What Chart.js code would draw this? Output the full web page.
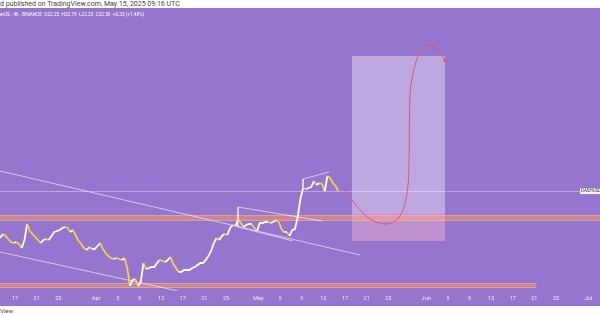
<!DOCTYPE html>
<html>
<head>
<meta charset="utf-8">
<script src="https://cdn.jsdelivr.net/npm/chart.js@4.4.1/dist/chart.umd.min.js"></script>
<style>
  body { margin: 0; background: #fff; width: 600px; height: 315px; overflow: hidden; position: relative; font-family: Roboto, "DejaVu Sans", sans-serif; }
  #top { position: absolute; left: 0; top: 0; font-size: 7px; line-height: 9px; color: #444; white-space: nowrap; }
  #pane { position: absolute; left: 0; top: 8px; width: 600px; height: 298px; background: #9575CD; }
  #sym { position: absolute; left: 0; top: 12px; font-size: 4.7px; color: #fff; white-space: nowrap; }
  #bottom { position: absolute; left: 0; top: 306px; font-size: 6px; line-height: 9px; color: #444; }
</style>
</head>
<body>
<div id="top">d published on TradingView.com, May 15, 2025 09:16 UTC</div>
<div id="pane"><canvas id="chart" width="600" height="298"></canvas></div>
<div id="sym">erUS · 4h · BINANCE &nbsp;O22.25 &nbsp;H22.79 &nbsp;L22.25 &nbsp;C22.59 &nbsp;+0.33 (+1.48%)</div>
<div id="bottom">View</div>
<script>
// days counted from Mar 1 2025 (day 0), one price every 12 hours
const firstCandleDay = 13.25;
const firstOpen = 20.30;
const closes = [
  20.24, 20.44, 20.34, 20.19, 20.04, 19.99, 20.04, 19.94, 19.74, 20.14,
  20.94, 20.59, 20.44, 20.29, 20.14, 19.99, 20.14, 20.19, 20.14, 20.34,
  20.54, 20.59, 20.64, 20.74, 20.79, 20.74, 20.54, 20.64, 20.34, 20.09,
  19.94, 19.74, 19.64, 19.79, 19.69, 19.69, 19.84, 19.99, 19.69, 19.49,
  19.34, 19.24, 19.19, 19.24, 19.19, 19.14, 19.24, 18.74, 17.84, 18.14,
  18.19, 17.84, 18.04, 18.99, 18.69, 18.74, 18.79, 18.79, 18.99, 19.14,
  19.09, 19.04, 19.14, 19.29, 18.94, 18.74, 18.54, 18.54, 18.64, 18.64,
  18.64, 18.74, 18.79, 18.89, 18.99, 18.99, 19.14, 19.34, 19.59, 19.99,
  20.24, 20.14, 20.34, 20.44, 20.39, 20.74, 20.89, 20.84, 21.19, 20.99,
  20.79, 20.89, 20.94, 20.94, 20.74, 20.59, 20.99, 20.99, 21.04, 21.04,
  20.99, 21.04, 21.14, 21.04, 20.69, 20.54, 20.54, 20.34, 20.64, 20.69,
  21.29, 22.19, 22.74, 22.69, 22.74, 22.79, 23.09, 22.89, 22.99, 22.94,
  22.59, 23.34, 23.24, 22.99, 22.84, 22.59
];

const tickDays   = [16, 20, 24, 31, 35, 39, 43, 47, 51, 55, 61, 65, 69, 73, 77, 81, 85, 92, 96, 100, 104, 108, 112, 116, 122];
const tickLabels = ['17', '21', '25', 'Apr', '5', '9', '13', '17', '21', '25', 'May', '5', '9', '13', '17', '21', '25', 'Jun', '5', '9', '13', '17', '21', '25', 'Jul'];

// support / resistance zones: [startDay, endDay, lowPrice, highPrice]
const zoneUpper = [10, 130, 21.09, 21.39];
const zoneLower = [10, 112.25, 17.74, 17.99];

// long position box: days and [target, entry, stop]
const boxDays = [78.29, 95.49];
const boxPrices = [29.34, 21.44, 20.09];

// drawn trend lines
const channelTop    = [[13.23, 23.59], [79.77, 19.39]];
const channelBottom = [[13.23, 19.54], [46.13, 17.59]];
const flagOne = [[72.75, 21.09], [57.22, 21.79], [57.22, 20.79], [67.39, 20.09]];
const flagTwo = [[74.04, 23.54], [69.24, 23.19], [69.24, 22.64]];

// projected path
const projection = [
  [76.63, 22.74], [78.29, 22.14], [80.14, 21.54], [81.99, 21.14], [84.39, 20.94],
  [86.24, 21.09], [87.35, 21.44], [88.09, 21.99], [88.65, 22.89], [88.83, 24.14],
  [88.92, 26.14], [89.02, 27.39], [89.39, 28.24], [90.12, 29.04], [90.86, 29.54],
  [92.16, 29.84], [93.64, 29.74], [94.75, 29.44], [95.67, 29.04]
];

const lastClose = closes[closes.length - 1];

const pricePts = [{ x: firstCandleDay - 0.5, y: firstOpen }].concat(
  closes.map((c, i) => ({ x: firstCandleDay + i * 0.5, y: c }))
);

const toPts = arr => arr.map(p => ({ x: p[0], y: p[1] }));

const lineStyle = {
  type: 'line', borderColor: 'rgba(255,255,255,0.6)', borderWidth: 1,
  pointRadius: 0, tension: 0, fill: false
};

const drawings = {
  id: 'drawings',
  beforeDatasetsDraw(chart) {
    const { ctx, chartArea: a, scales: { x, y } } = chart;
    ctx.save();
    ctx.beginPath();
    ctx.rect(a.left, a.top, a.right - a.left, a.bottom - a.top);
    ctx.clip();

    // last price line
    const ly = Math.round(y.getPixelForValue(lastClose)) + 0.5;
    ctx.strokeStyle = 'rgba(255,255,255,0.35)';
    ctx.lineWidth = 1;
    ctx.beginPath(); ctx.moveTo(a.left, ly); ctx.lineTo(a.right, ly); ctx.stroke();

    // zones
    [zoneUpper, zoneLower].forEach(z => {
      const x0 = x.getPixelForValue(z[0]), x1 = x.getPixelForValue(z[1]);
      const y0 = y.getPixelForValue(z[3]), y1 = y.getPixelForValue(z[2]);
      ctx.fillStyle = 'rgba(233,148,100,0.6)';
      ctx.fillRect(x0, y0, x1 - x0, y1 - y0);
      ctx.strokeStyle = 'rgba(250,170,185,0.55)';
      ctx.strokeRect(x0, y0 + 0.5, x1 - x0, y1 - y0 - 1);
    });

    // position box
    const bx0 = x.getPixelForValue(boxDays[0]), bx1 = x.getPixelForValue(boxDays[1]);
    const yt = y.getPixelForValue(boxPrices[0]);
    const ye = y.getPixelForValue(boxPrices[1]);
    const ys = y.getPixelForValue(boxPrices[2]);
    ctx.fillStyle = 'rgba(255,255,255,0.38)';
    ctx.fillRect(bx0, yt, bx1 - bx0, ye - yt);
    ctx.fillStyle = 'rgba(250,185,210,0.42)';
    ctx.fillRect(bx0, ye, bx1 - bx0, ys - ye);
    ctx.restore();
  },
  afterDatasetsDraw(chart) {
    const { ctx, chartArea: a, scales: { x, y } } = chart;
    ctx.save();
    // arrow head at the end of the projection
    const n = projection.length;
    const px = x.getPixelForValue(projection[n - 1][0]), py = y.getPixelForValue(projection[n - 1][1]);
    const qx = x.getPixelForValue(projection[n - 2][0]), qy = y.getPixelForValue(projection[n - 2][1]);
    const ang = Math.atan2(py - qy, px - qx);
    ctx.fillStyle = '#E35470';
    ctx.beginPath();
    ctx.moveTo(px + Math.cos(ang) * 2, py + Math.sin(ang) * 2);
    ctx.lineTo(px + Math.cos(ang + 2.5) * 4, py + Math.sin(ang + 2.5) * 4);
    ctx.lineTo(px + Math.cos(ang - 2.5) * 4, py + Math.sin(ang - 2.5) * 4);
    ctx.closePath();
    ctx.fill();

    // symbol label on the right
    const ly = y.getPixelForValue(lastClose);
    ctx.fillStyle = '#F4F2F8';
    ctx.fillRect(a.right - 20, ly - 3, 20, 6);
    ctx.fillStyle = '#333';
    ctx.font = '4.5px Roboto, sans-serif';
    ctx.textBaseline = 'middle';
    ctx.fillText('DASHUSDT', a.right - 19, ly + 0.3);
    ctx.restore();
  }
};

new Chart(document.getElementById('chart'), {
  type: 'line',
  data: {
    datasets: [
      { ...lineStyle, data: toPts(channelTop), order: 5 },
      { ...lineStyle, data: toPts(channelBottom), order: 5 },
      { ...lineStyle, data: toPts(flagOne), order: 5 },
      { ...lineStyle, data: toPts(flagTwo), order: 5 },
      {
        type: 'line', data: pricePts, borderWidth: 1.8, pointRadius: 0, tension: 0,
        fill: false, order: 2, borderColor: '#F6D047',
        segment: { borderColor: c => c.p1.parsed.y >= c.p0.parsed.y ? '#FFFFFF' : '#F6D047' }
      },
      {
        type: 'line', data: toPts(projection), borderColor: '#E35470', borderWidth: 1,
        pointRadius: 0, tension: 0.4, fill: false, order: 1
      }
    ]
  },
  options: {
    responsive: false,
    animation: false,
    layout: { padding: 0 },
    plugins: { legend: { display: false }, tooltip: { enabled: false } },
    scales: {
      x: {
        type: 'linear', min: 13.23, max: 124.13, offset: false,
        grid: { display: false, drawTicks: false },
        border: { display: false },
        afterBuildTicks: s => { s.ticks = tickDays.map(v => ({ value: v })); },
        afterFit: s => { s.height = 15; },
        ticks: {
          autoSkip: false, maxRotation: 0, minRotation: 0, padding: 4,
          color: '#F1ECFA', font: { family: 'Roboto', size: 5.5 },
          callback: (v, i) => tickLabels[i]
        }
      },
      y: { type: 'linear', display: false, min: 17.59, max: 31.74 }
    }
  },
  plugins: [drawings]
});
</script>
</body>
</html>
